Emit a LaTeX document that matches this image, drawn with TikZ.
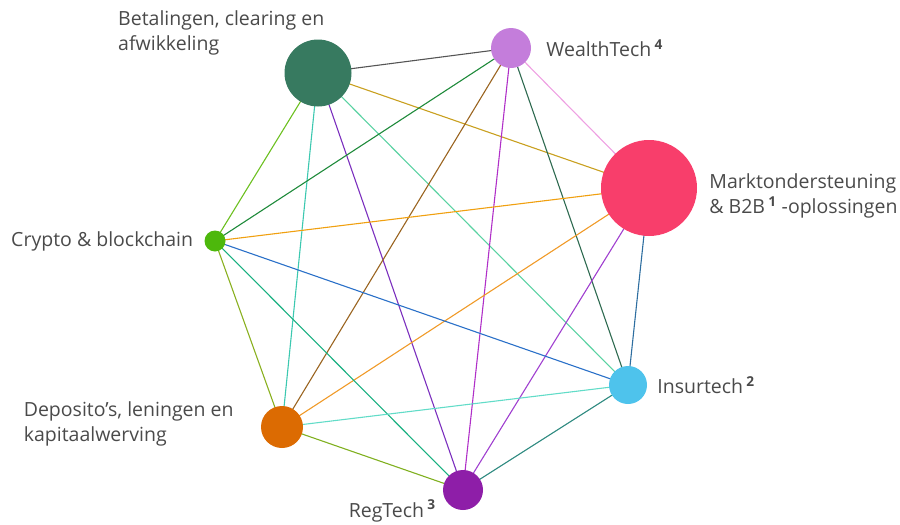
\documentclass[tikz,border=0pt]{standalone}
\usepackage{fontspec}
\setmainfont{Open Sans}
\usetikzlibrary{positioning,calc,backgrounds}

\definecolor{txtgray}{HTML}{4A4A4A}
\definecolor{cBetal}{HTML}{377A60}
\definecolor{cWealth}{HTML}{C47DDB}
\definecolor{cMarkt}{HTML}{F83E6B}
\definecolor{cCrypto}{HTML}{4DB80C}
\definecolor{cInsur}{HTML}{4EC3EC}
\definecolor{cDepo}{HTML}{DC6B02}
\definecolor{cReg}{HTML}{8E1EA8}

% edge colours
\definecolor{eBW}{HTML}{555555}
\definecolor{eBM}{HTML}{C9A020}
\definecolor{eBI}{HTML}{5AD2A2}
\definecolor{eBR}{HTML}{7B2FBE}
\definecolor{eBC}{HTML}{6CC020}
\definecolor{eBD}{HTML}{3CC8B0}
\definecolor{eWM}{HTML}{EEA0E2}
\definecolor{eWC}{HTML}{1E8A3A}
\definecolor{eWD}{HTML}{9A6420}
\definecolor{eWR}{HTML}{B030C8}
\definecolor{eWI}{HTML}{2E6A50}
\definecolor{eMC}{HTML}{F0A010}
\definecolor{eMD}{HTML}{F09A28}
\definecolor{eMR}{HTML}{A040D0}
\definecolor{eMI}{HTML}{2E6EA0}
\definecolor{eCI}{HTML}{2A70C8}
\definecolor{eCD}{HTML}{8AB020}
\definecolor{eCR}{HTML}{18B080}
\definecolor{eDI}{HTML}{62DCC8}
\definecolor{eDR}{HTML}{80B020}
\definecolor{eIR}{HTML}{2E8A80}

\newcommand{\fnote}[1]{\,\textsuperscript{\bfseries #1}}

\begin{document}
\begin{tikzpicture}[
        x=1pt, y=-1pt,
        dot/.style = {circle, inner sep=0pt, minimum size=#1},
        lbl/.style = {font=\fontsize{19.5}{25.5}\selectfont, text=txtgray, inner sep=0pt, align=left},
        link/.style = {draw=#1, line width=1.1pt}
    ]
        \useasboundingbox (0,0) rectangle (900,525);

        % Place nodes
        \node [dot=67pt, fill=cBetal] (betal) at (318,73) {};
        \node [dot=40pt, fill=cWealth] (wealth) at (511,48) {};
        \node [dot=96pt, fill=cMarkt] (markt) at (649,188) {};
        \node [dot=21pt, fill=cCrypto] (crypto) at (215,241) {};
        \node [dot=38pt, fill=cInsur] (insur) at (628,385) {};
        \node [dot=42pt, fill=cDepo] (depo) at (282,427) {};
        \node [dot=40pt, fill=cReg] (reg) at (463,490) {};

        % Labels
        \node [lbl, anchor=north west] (betallab) at ($(betal)+(-200,-63)$) {Betalingen, clearing en\\afwikkeling};
        \node [lbl, right=15pt of wealth] (wealthlab) {WealthTech\fnote{4}};
        \node [lbl, right=12pt of markt, yshift=-8pt] (marktlab) {Marktondersteuning\\\& B2B\fnote{1} -oplossingen};
        \node [lbl, left=11pt of crypto] (cryptolab) {Crypto \& blockchain};
        \node [lbl, right=10pt of insur] (insurlab) {Insurtech\fnote{2}};
        \node [lbl, left=27pt of depo, yshift=3pt] (depolab) {Deposito’s, leningen en\\kapitaalwerving};
        \node [lbl, anchor=east] (reglab) at ($(reg.west)+(-7,21)$) {RegTech\fnote{3}};

        % Draw edges
        \begin{scope}[on background layer]
            \draw [link=eBW] (betal.center) -- (wealth.center);
            \draw [link=eBM] (betal.center) -- (markt.center);
            \draw [link=eBI] (betal.center) -- (insur.center);
            \draw [link=eBR] (betal.center) -- (reg.center);
            \draw [link=eBC] (betal.center) -- (crypto.center);
            \draw [link=eBD] (betal.center) -- (depo.center);
            \draw [link=eWM] (wealth.center) -- (markt.center);
            \draw [link=eWC] (wealth.center) -- (crypto.center);
            \draw [link=eWD] (wealth.center) -- (depo.center);
            \draw [link=eWR] (wealth.center) -- (reg.center);
            \draw [link=eWI] (wealth.center) -- (insur.center);
            \draw [link=eMC] (markt.center) -- (crypto.center);
            \draw [link=eMD] (markt.center) -- (depo.center);
            \draw [link=eMR] (markt.center) -- (reg.center);
            \draw [link=eMI] (markt.center) -- (insur.center);
            \draw [link=eCI] (crypto.center) -- (insur.center);
            \draw [link=eCD] (crypto.center) -- (depo.center);
            \draw [link=eCR] (crypto.center) -- (reg.center);
            \draw [link=eDI] (depo.center) -- (insur.center);
            \draw [link=eDR] (depo.center) -- (reg.center);
            \draw [link=eIR] (insur.center) -- (reg.center);
        \end{scope}

    \end{tikzpicture}
\end{document}
